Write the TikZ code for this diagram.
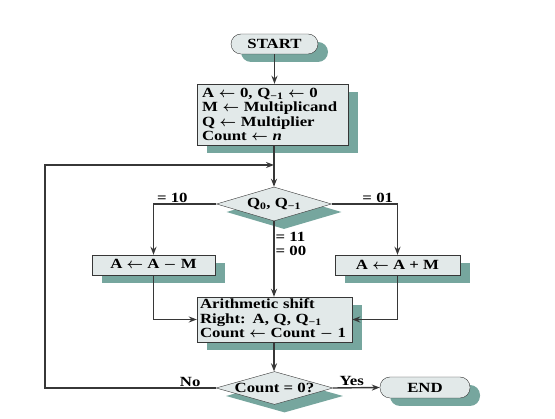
\documentclass[tikz,border=0pt]{standalone}
\usepackage{fontspec}
\setmainfont{Liberation Serif}[FakeStretch=1.2]
\usetikzlibrary{shapes.geometric,shadows,arrows.meta}
\definecolor{boxfill}{RGB}{226,233,233}
\definecolor{shadowcol}{RGB}{118,166,158}
\definecolor{linecol}{RGB}{55,55,55}
\newcommand{\sub}[1]{\textsubscript{#1}}
\newcommand{\larr}{~$\leftarrow$~}
\newcommand{\mminus}{~$-$~}
\begin{document}
\begin{tikzpicture}[x=1pt,y=-1pt,font=\fontsize{14}{14.5}\selectfont\bfseries\boldmath]
\tikzset{
  shade/.style={general shadow={shadow xshift=10pt,shadow yshift=-8pt,fill=shadowcol}},
  terminal/.style={draw=linecol,fill=boxfill,rounded corners=10pt,minimum height=20pt,inner sep=0pt,shade},
  process/.style={draw=linecol,fill=boxfill,rectangle,inner sep=0pt,shade},
  decision/.style={draw=linecol,fill=boxfill,diamond,aspect=3.4,inner sep=0pt,shade},
  flow/.style={draw=linecol,line width=1.4pt,-{Stealth[length=8pt,width=6pt]}},
  lbl/.style={inner sep=1pt}
}
\useasboundingbox (0,0) rectangle (555,419);

\node[terminal,minimum width=87pt] (start) at (274.5,44) {START};
\node[process,minimum width=151pt,minimum height=61pt,text width=141pt,align=left] (init) at (272.5,114.5)
  {A\larr0, Q\sub{−1}\larr0\\M\larr Multiplicand\\Q\larr Multiplier\\Count\larr\textit{n}};
\node[decision,minimum width=115pt,minimum height=34pt] (test) at (274,204) {Q\sub{0}, Q\sub{−1}};
\node[process,minimum width=123pt,minimum height=20pt] (sub) at (153.5,265) {A\larr A\mminus M};
\node[process,minimum width=125pt,minimum height=20pt] (add) at (397.5,265) {A\larr A + M};
\node[process,minimum width=155pt,minimum height=45pt,text width=149pt,align=left] (shift) at (274.5,319.5)
  {Arithmetic shift\\Right: A, Q, Q\sub{−1}\\Count\larr Count\mminus1};
\node[decision,minimum width=117pt,minimum height=32pt] (done) at (274.5,388) {Count = 0?};
\node[terminal,minimum width=90pt,minimum height=21pt] (end) at (425,387.5) {END};

\coordinate (join) at (274,165);
\coordinate (back) at (45,388);

\draw[flow] (start) -- (start |- init.north);
\draw[flow] (init.south -| join) -- (test.north -| join);
\draw[flow] (test.west) -| (sub.north) node[lbl,pos=0.35,above] {= 10};
\draw[flow] (test.east) -| (add.north) node[lbl,pos=0.35,above] {= 01};
\draw[flow] (test.south -| join) -- (shift.north -| join)
  node[lbl,pos=0.3,right,align=left] {= 11\\= 00};
\draw[flow] (sub.south) |- (shift.west);
\draw[flow] (add.south) |- (shift.east);
\draw[flow] (shift.south -| join) -- (done.north -| join);
\draw[flow] (done.west) -- (back) node[lbl,pos=0.15,above] {No} -- (back |- join) -- (join);
\draw[flow] (done.east) -- (end.west) node[lbl,pos=0.4,above] {Yes};
\end{tikzpicture}
\end{document}
